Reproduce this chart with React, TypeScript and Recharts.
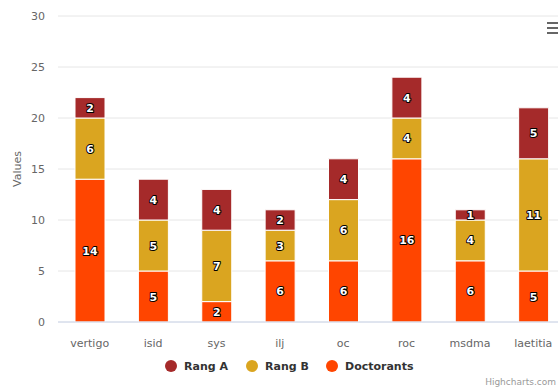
import { Bar, BarChart, CartesianGrid, LabelList, XAxis, YAxis } from "recharts";

const categories = ["vertigo", "isid", "sys", "ilj", "oc", "roc", "msdma", "laetitia"];
const doctorants = [14, 5, 2, 6, 6, 16, 6, 5];
const rangB = [6, 5, 7, 3, 6, 4, 4, 11];
const rangA = [2, 4, 4, 2, 4, 4, 1, 5];
const yTicks = [0, 5, 10, 15, 20, 25, 30];

const series = [
  { key: "rangA", name: "Rang A", color: "#a52a2a" },
  { key: "rangB", name: "Rang B", color: "#daa520" },
  { key: "doctorants", name: "Doctorants", color: "#ff4500" },
];

const data = categories.map((name, i) => ({
  name,
  doctorants: doctorants[i],
  rangB: rangB[i],
  rangA: rangA[i],
}));

const FONT = "'DejaVu Sans', sans-serif";

// legend slots, copied from the original layout
const legendLeft = [165, 246, 326];

function ValueLabel(props: any) {
  const { x, y, width, height, value } = props;
  if (!value) return null;
  return (
    <text
      x={x + width / 2}
      y={y + height / 2}
      dy={4}
      textAnchor="middle"
      fontSize={11}
      fontWeight={700}
      fontFamily={FONT}
      fill="#fff"
      stroke="#000"
      strokeWidth={2}
      strokeLinejoin="round"
      paintOrder="stroke"
    >
      {value}
    </text>
  );
}

export default function App() {
  const stackOrder = ["doctorants", "rangB", "rangA"];
  return (
    <div style={{ position: "absolute", left: 0, top: 0, width: 558, height: 390, overflow: "hidden", background: "#fff", fontFamily: FONT }}>
      <BarChart
        width={575}
        height={390}
        data={data}
        margin={{ top: 16, right: 10, left: 0, bottom: 43 }}
        barSize={30}
      >
        <CartesianGrid stroke="#e6e6e6" vertical={false} />
        <XAxis
          dataKey="name"
          tick={{ fill: "#666", fontSize: 11, fontFamily: FONT }}
          tickLine={false}
          axisLine={{ stroke: "#ccd6eb" }}
          tickMargin={11}
          height={25}
          interval={0}
        />
        <YAxis
          domain={[0, 30]}
          ticks={yTicks}
          tick={{ fill: "#666", fontSize: 11, fontFamily: FONT }}
          tickLine={false}
          axisLine={false}
          width={58}
          tickMargin={7}
          label={{
            value: "Values",
            angle: -90,
            position: "insideLeft",
            offset: 17,
            style: { fill: "#666", fontSize: 11, fontFamily: FONT, textAnchor: "middle" },
          }}
        />
        {stackOrder.map((k) => {
          const s = series.find((x) => x.key === k)!;
          return (
            <Bar
              key={k}
              dataKey={k}
              name={s.name}
              stackId="a"
              fill={s.color}
              stroke="#fff"
              strokeWidth={1}
              isAnimationActive={false}
            >
              <LabelList dataKey={k} content={ValueLabel} />
            </Bar>
          );
        })}
      </BarChart>
      {series.map((s, i) => (
        <div
          key={s.key}
          style={{ position: "absolute", left: legendLeft[i], top: 359, display: "flex", alignItems: "center", height: 14 }}
        >
          <span style={{ width: 12, height: 12, borderRadius: 6, background: s.color, marginRight: 7 }} />
          <span style={{ fontSize: 11, fontWeight: 700, color: "#333" }}>{s.name}</span>
        </div>
      ))}
      <div style={{ position: "absolute", left: 547, top: 22 }}>
        {[0, 1, 2].map((i) => (
          <div key={i} style={{ width: 12, height: 2, background: "#666", marginBottom: 3 }} />
        ))}
      </div>
      <div style={{ position: "absolute", right: 2, top: 377, fontSize: 9, color: "#999", whiteSpace: "nowrap" }}>
        Highcharts.com
      </div>
    </div>
  );
}
